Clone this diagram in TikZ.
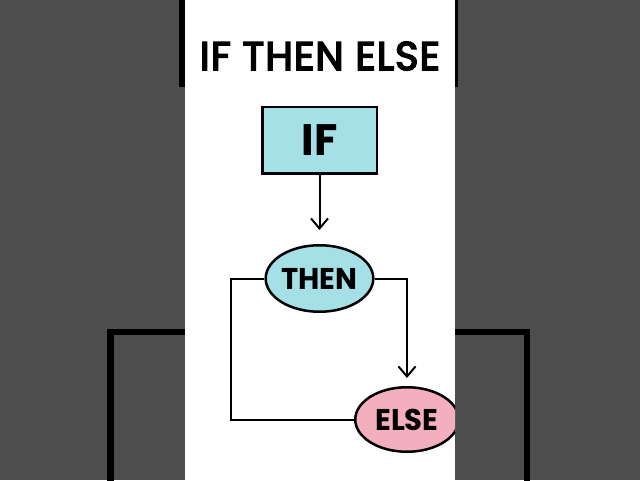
\documentclass[tikz,border=0pt]{standalone}
\usepackage{fontspec}
\setmainfont{Poppins}[FakeStretch=0.97]
\newfontfamily\titlefont{Poppins}[FakeBold=4,LetterSpace=2.5]
\usetikzlibrary{shapes.geometric,arrows.meta,positioning}
\definecolor{bgdark}{HTML}{4D4D4D}
\definecolor{ifcyan}{HTML}{A5E0E6}
\definecolor{elsepink}{HTML}{F4AFBF}
\begin{document}
\begin{tikzpicture}[x=1pt,y=1pt,line join=miter,
	>={Straight Barb[length=10pt,width=17pt]},
	ifbox/.style={draw,line width=2.5pt,fill=ifcyan,minimum width=114.5pt,minimum height=66.5pt,inner sep=0pt,font=\fontsize{44}{44}\selectfont\bfseries},
	oval/.style={ellipse,draw,line width=2.5pt,minimum width=106pt,minimum height=66pt,inner sep=0pt,font=\fontsize{30}{30}\selectfont\bfseries},
	link/.style={line width=2pt}]
	\useasboundingbox (0,0) rectangle (640,480);
	% Nền
	\fill[bgdark] (0,0) rectangle (640,480);
	\draw[line width=6.5pt] (110.5,-10) |- (527,148) -- (527,-10);
	\fill (179.3,393) rectangle (185,480);
	\fill (455,393) rectangle (457.5,480);
	\fill[white] (185,0) rectangle (455,480);
	\begin{scope}
		\clip (185,0) rectangle (455,480);
		% Tiêu đề
		\node[anchor=base,font=\fontsize{40}{40}\titlefont] (title) at (320,410) {IF THEN ELSE};
		% Các khối
		\node[ifbox] (if) at (319.5,339.5) {IF};
		\node[oval,fill=ifcyan,minimum width=106.5pt,minimum height=66.5pt] (then) at (319.5,201.5) {THEN};
		\node[oval,fill=elsepink,minimum width=103.5pt,minimum height=64.5pt] (else) at (407,60.5) {ELSE};
		\coordinate (loop) at (231,60.5);
		% Mũi tên
		\draw[link,->,shorten >=14pt] (if) -- (then);
		\draw[link,->,shorten >=8pt] (then.east) -| (else.north);
		\draw[link] (then.west) -| (loop) -- (else.west);
	\end{scope}
\end{tikzpicture}
\end{document}
